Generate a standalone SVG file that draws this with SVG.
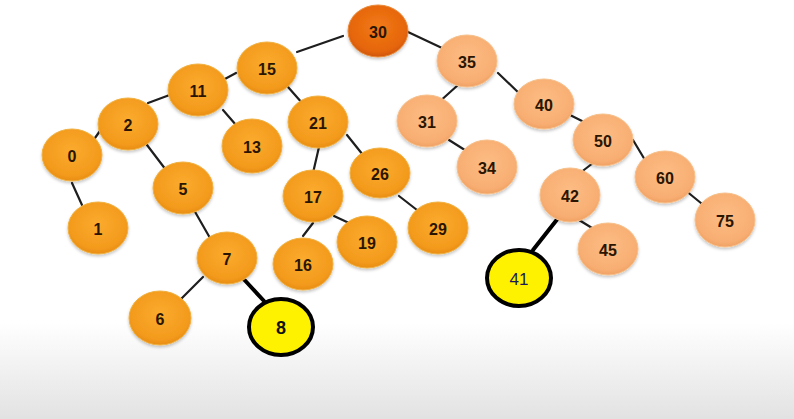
<svg xmlns="http://www.w3.org/2000/svg" width="794" height="419" viewBox="0 0 794 419">
<defs>
<linearGradient id="bg" x1="0" y1="0" x2="0" y2="1">
<stop offset="0" stop-color="#ffffff"/>
<stop offset="0.77" stop-color="#ffffff"/>
<stop offset="1" stop-color="#e2e2e2"/>
</linearGradient>
<radialGradient id="gO" cx="0.5" cy="0.42" r="0.6">
<stop offset="0" stop-color="#fbab2e"/>
<stop offset="0.8" stop-color="#f39a1c"/>
<stop offset="1" stop-color="#e68a12"/>
</radialGradient>
<radialGradient id="gP" cx="0.5" cy="0.42" r="0.6">
<stop offset="0" stop-color="#fcbc84"/>
<stop offset="0.8" stop-color="#f8ae72"/>
<stop offset="1" stop-color="#ef9f62"/>
</radialGradient>
<radialGradient id="gR" cx="0.5" cy="0.42" r="0.6">
<stop offset="0" stop-color="#f27a18"/>
<stop offset="0.8" stop-color="#e5650a"/>
<stop offset="1" stop-color="#c95205"/>
</radialGradient>
<filter id="sh" x="-20%" y="-20%" width="140%" height="150%">
<feDropShadow dx="0" dy="2" stdDeviation="1.5" flood-color="#000" flood-opacity="0.22"/>
</filter>
</defs>
<style>
.o{fill:url(#gO);stroke:#f0b040;stroke-width:1;filter:url(#sh)}
.p{fill:url(#gP);stroke:#f6c08a;stroke-width:1;filter:url(#sh)}
.r{fill:url(#gR);stroke:#e98a3a;stroke-width:1;filter:url(#sh)}
.y{fill:#fff200;stroke:#000;stroke-width:4}
.t{font-family:"Liberation Sans",Arial,sans-serif;font-weight:bold;font-size:16px;fill:#2a1500;text-anchor:middle;dominant-baseline:central}
.ty{font-family:"Liberation Sans",Arial,sans-serif;font-weight:bold;font-size:18px;fill:#111;text-anchor:middle;dominant-baseline:central}
.tb{font-family:"Liberation Sans",Arial,sans-serif;font-size:17px;fill:#1a1a5a;text-anchor:middle;dominant-baseline:central}
.e{stroke:#1e1e1e;stroke-width:2.2;stroke-linecap:round;fill:none}
.eb{stroke:#000;stroke-width:4;stroke-linecap:round;fill:none}
</style>
<rect width="794" height="419" fill="url(#bg)"/>
<g id="connectors">
<line class="e" x1="297" y1="52" x2="343" y2="36"/>
<line class="e" x1="408" y1="32" x2="442" y2="48"/>
<line class="e" x1="223" y1="80" x2="236" y2="73"/>
<line class="e" x1="148" y1="103" x2="175" y2="93"/>
<line class="e" x1="95" y1="138" x2="102" y2="128"/>
<line class="e" x1="72" y1="183" x2="82" y2="205"/>
<line class="e" x1="147" y1="145" x2="166" y2="170"/>
<line class="e" x1="194" y1="210" x2="210" y2="238"/>
<line class="e" x1="223" y1="110" x2="236" y2="125"/>
<line class="e" x1="288" y1="87" x2="303" y2="104"/>
<line class="e" x1="319" y1="147" x2="313" y2="173"/>
<line class="e" x1="347" y1="135" x2="363" y2="155"/>
<line class="e" x1="313" y1="223" x2="303" y2="236"/>
<line class="e" x1="334" y1="216" x2="349" y2="223"/>
<line class="e" x1="399" y1="196" x2="417" y2="210"/>
<line class="e" x1="203" y1="277" x2="182" y2="298"/>
<line class="eb" x1="239" y1="274" x2="264" y2="301"/>
<line class="e" x1="458" y1="85" x2="438" y2="103"/>
<line class="e" x1="498" y1="73" x2="523" y2="97"/>
<line class="e" x1="449" y1="140" x2="468" y2="152"/>
<line class="e" x1="570" y1="115" x2="590" y2="125"/>
<line class="e" x1="593" y1="163" x2="580" y2="173"/>
<line class="e" x1="633" y1="140" x2="645" y2="160"/>
<line class="e" x1="685" y1="190" x2="707" y2="208"/>
<line class="e" x1="579" y1="220" x2="597" y2="231"/>
<line class="eb" x1="559" y1="217" x2="533" y2="250"/>
</g>
<g id="n30"><ellipse class="r" cx="378" cy="31" rx="30" ry="26"/><text class="t" x="378" y="32">30</text></g>
<g id="n35"><ellipse class="p" cx="467" cy="61" rx="30" ry="26"/><text class="t" x="467" y="62">35</text></g>
<g id="n15"><ellipse class="o" cx="267" cy="68" rx="30" ry="26"/><text class="t" x="267" y="69">15</text></g>
<g id="n11"><ellipse class="o" cx="198" cy="90" rx="30" ry="26"/><text class="t" x="198" y="91">11</text></g>
<g id="n2"><ellipse class="o" cx="128" cy="124" rx="30" ry="26"/><text class="t" x="128" y="125">2</text></g>
<g id="n0"><ellipse class="o" cx="72" cy="155" rx="30" ry="26"/><text class="t" x="72" y="156">0</text></g>
<g id="n1"><ellipse class="o" cx="98" cy="228" rx="30" ry="26"/><text class="t" x="98" y="229">1</text></g>
<g id="n5"><ellipse class="o" cx="183" cy="188" rx="30" ry="26"/><text class="t" x="183" y="189">5</text></g>
<g id="n7"><ellipse class="o" cx="227" cy="258" rx="30" ry="26"/><text class="t" x="227" y="259">7</text></g>
<g id="n6"><ellipse class="o" cx="160" cy="318" rx="31" ry="27"/><text class="t" x="160" y="319">6</text></g>
<g id="n8"><ellipse class="y" cx="281" cy="327" rx="32" ry="28"/><text class="ty" x="281" y="328">8</text></g>
<g id="n13"><ellipse class="o" cx="252" cy="146" rx="30" ry="27"/><text class="t" x="252" y="147">13</text></g>
<g id="n21"><ellipse class="o" cx="318" cy="122" rx="30" ry="26"/><text class="t" x="318" y="123">21</text></g>
<g id="n17"><ellipse class="o" cx="313" cy="196" rx="30" ry="26"/><text class="t" x="313" y="197">17</text></g>
<g id="n26"><ellipse class="o" cx="380" cy="173" rx="30" ry="25"/><text class="t" x="380" y="174">26</text></g>
<g id="n16"><ellipse class="o" cx="303" cy="264" rx="30" ry="26"/><text class="t" x="303" y="265">16</text></g>
<g id="n19"><ellipse class="o" cx="367" cy="242" rx="30" ry="26"/><text class="t" x="367" y="243">19</text></g>
<g id="n29"><ellipse class="o" cx="438" cy="228" rx="30" ry="26"/><text class="t" x="438" y="229">29</text></g>
<g id="n31"><ellipse class="p" cx="427" cy="121" rx="30" ry="26"/><text class="t" x="427" y="122">31</text></g>
<g id="n34"><ellipse class="p" cx="487" cy="167" rx="30" ry="27"/><text class="t" x="487" y="168">34</text></g>
<g id="n40"><ellipse class="p" cx="544" cy="104" rx="30" ry="25"/><text class="t" x="544" y="105">40</text></g>
<g id="n50"><ellipse class="p" cx="603" cy="140" rx="30" ry="26"/><text class="t" x="603" y="141">50</text></g>
<g id="n42"><ellipse class="p" cx="570" cy="195" rx="30" ry="27"/><text class="t" x="570" y="196">42</text></g>
<g id="n45"><ellipse class="p" cx="608" cy="249" rx="30" ry="26"/><text class="t" x="608" y="250">45</text></g>
<g id="n41"><ellipse class="y" cx="519" cy="278" rx="32" ry="28"/><text class="tb" x="519" y="279">41</text></g>
<g id="n60"><ellipse class="p" cx="665" cy="177" rx="30" ry="26"/><text class="t" x="665" y="178">60</text></g>
<g id="n75"><ellipse class="p" cx="725" cy="220" rx="30" ry="27"/><text class="t" x="725" y="221">75</text></g>
</svg>
